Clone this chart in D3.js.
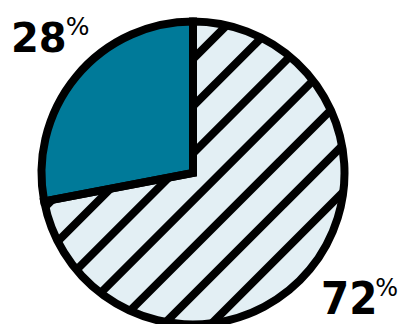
<!DOCTYPE html>
<html>
<head>
<meta charset="utf-8">
<script src="https://cdn.jsdelivr.net/npm/d3@7"></script>
<style>
  html, body { margin: 0; padding: 0; background: #fff; }
  svg { display: block; }
  text { font-family: "DejaVu Sans", sans-serif; fill: #000; }
</style>
</head>
<body>
<svg id="chart" width="403" height="324"></svg>
<script>
// Share of the whole, drawn clockwise from 12 o'clock
const categories = ["Other", "Highlighted"];
const shares = [72, 28];
const labels = ["72", "28"];
const labelSuffix = "%";

const width = 403, height = 324;
const cx = 193, cy = 173;
const radius = 151.5;
const strokeW = 8;

const colors = { Other: "#e3eff4", Highlighted: "#007a99" };

const svg = d3.select("#chart");

const pie = d3.pie().sort(null).value(d => d.value);
const arcs = pie(categories.map((c, i) => ({ name: c, value: shares[i] })));
const arc = d3.arc().innerRadius(0).outerRadius(radius);

const g = svg.append("g").attr("transform", `translate(${cx},${cy})`);

// clip region for the hatched slice
const defs = svg.append("defs");
defs.append("clipPath").attr("id", "hatch-clip")
  .append("path").attr("d", arc(arcs[0]));

// slice fills
g.selectAll("path.fill")
  .data(arcs)
  .join("path")
  .attr("class", "fill")
  .attr("d", arc)
  .attr("fill", d => colors[d.data.name]);

// diagonal hatching across the larger slice (lines x + y = const)
const hatch = g.append("g").attr("clip-path", "url(#hatch-clip)");
const spacing = 47.2;
for (let off = -114 - spacing * 3; off < 260; off += spacing) {
  hatch.append("line")
    .attr("x1", off + 300).attr("y1", -300)
    .attr("x2", off - 300).attr("y2", 300)
    .attr("stroke", "#000")
    .attr("stroke-width", strokeW);
}

// slice outlines
g.selectAll("path.outline")
  .data(arcs)
  .join("path")
  .attr("class", "outline")
  .attr("d", arc)
  .attr("fill", "none")
  .attr("stroke", "#000")
  .attr("stroke-width", strokeW)
  .attr("stroke-linejoin", "miter");

// value labels: bold number with a raised, lighter percent sign
function valueLabel(x, y, value, opts) {
  const t = svg.append("text")
    .attr("x", x).attr("y", y)
    .style("font-family", opts.family)
    .style("font-size", opts.size + "px")
    .style("font-weight", "bold");
  t.append("tspan").text(value);
  t.append("tspan")
    .attr("dx", opts.gap)
    .attr("dy", -opts.raise)
    .style("font-family", "DejaVu Sans")
    .style("font-size", opts.pctSize + "px")
    .style("font-weight", "normal")
    .text(labelSuffix);
}
valueLabel(11, 52, labels[1], { family: "DejaVu Sans", size: 40, pctSize: 25, raise: 17, gap: -1 });
valueLabel(321, 314, labels[0], { family: "DejaVu Sans Condensed", size: 45, pctSize: 24, raise: 18, gap: -2 });
</script>
</body>
</html>
